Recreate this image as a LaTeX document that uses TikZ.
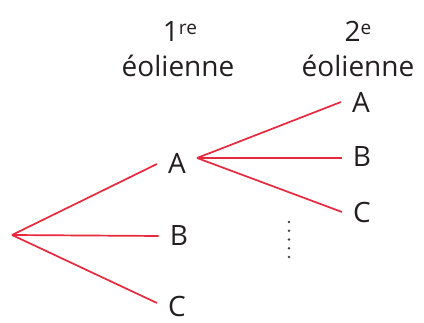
\documentclass[tikz,border=0pt]{standalone}
\usepackage{fontspec}
\setmainfont{Open Sans}
\definecolor{edgered}{RGB}{232,40,60}
\definecolor{ink}{RGB}{35,31,32}
\newcommand{\supx}[1]{\raisebox{7pt}{\fontsize{19}{19}\selectfont #1}}
\begin{document}
\begin{tikzpicture}[x=1pt,y=-1pt,
  lbl/.style={font=\fontsize{28}{34}\selectfont, text=ink, inner ysep=0pt, inner xsep=11pt},
  hdr/.style={font=\fontsize{28}{34}\selectfont, text=ink, inner sep=0pt, anchor=base},
  edge/.style={draw=edgered, line width=1.7pt}]
\useasboundingbox (0,0) rectangle (424,323);
% headers
\node[hdr] (h1) at (180,42) {1\supx{re}};
\node[hdr] (h1b) at (178,77) {éolienne};
\node[hdr] (h2) at (358,42) {2\supx{e}};
\node[hdr] (h2b) at (358,77) {éolienne};
% tree nodes
\coordinate (root) at (12,235);
\node[lbl] (a1) at (177,163) {A};
\node[lbl] (b1) at (179,236) {B};
\node[lbl] (c1) at (177,307) {C};
\node[lbl] (a2) at (361,102) {A};
\node[lbl] (b2) at (362,157) {B};
\node[lbl] (c2) at (362,213) {C};
% edges
\draw[edge] (root) -- ([yshift=-1pt]a1.west);
\draw[edge] (root) -- (b1.west);
\draw[edge] (root) -- ([yshift=4pt]c1.west);
\draw[edge] ([yshift=5pt]a1.east) -- (a2.west);
\draw[edge] ([yshift=5pt]a1.east) -- ([yshift=-1pt]b2.west);
\draw[edge] ([yshift=5pt]a1.east) -- ([yshift=1pt]c2.west);
% vertical dots
\foreach \y in {222,230.75,239.5,248.25,257}
  \fill[ink!85] (289,\y) circle (1.3pt);
\end{tikzpicture}
\end{document}
